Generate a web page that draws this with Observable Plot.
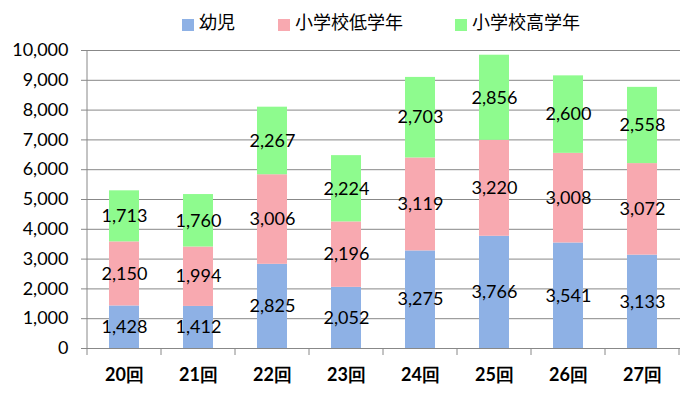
<!DOCTYPE html>
<html><head><meta charset="utf-8">
<script src="https://cdn.jsdelivr.net/npm/d3@7"></script>
<script src="https://cdn.jsdelivr.net/npm/@observablehq/plot@0.6"></script>
<style>
body{margin:0;background:#fff;width:692px;height:398px;overflow:hidden}
#legend{height:30px;position:relative;font-family:"Noto Sans CJK JP";font-size:18px;color:#000}
.item{position:absolute;top:8px;display:flex;align-items:center}
.sw{width:12px;height:12px;margin-right:5px;margin-top:7px}
</style></head><body>
<div id="legend"></div>
<div id="chart"></div>
<script>
const categories = ["20回","21回","22回","23回","24回","25回","26回","27回"];
const seriesNames = ["幼児","小学校低学年","小学校高学年"];
const yoji = [1428,1412,2825,2052,3275,3766,3541,3133];
const tei  = [2150,1994,3006,2196,3119,3220,3008,3072];
const kou  = [1713,1760,2267,2224,2703,2856,2600,2558];
const yTicks = [0,1000,2000,3000,4000,5000,6000,7000,8000,9000,10000];
const colors = ["#8EB1E5","#F8A9B0","#8EFB8E"];

const seriesVals = [yoji, tei, kou];
const table = [];
categories.forEach((c, i) => {
  let base = 0;
  seriesVals.forEach((vals, s) => {
    table.push({cat: c, series: seriesNames[s], value: vals[i], y1: base, y2: base + vals[i], mid: base + vals[i] / 2});
    base += vals[i];
  });
});

const legend = document.getElementById("legend");
const legendX = [182, 278, 455];
seriesNames.forEach((n, i) => {
  const d = document.createElement("div");
  d.className = "item";
  d.style.left = legendX[i] + "px";
  d.innerHTML = `<span class="sw" style="background:${colors[i]}"></span><span>${n}</span>`;
  legend.appendChild(d);
});

const boundaryTicks = (index, scales, values, dims) => {
  const g = d3.create("svg:g");
  const bw = scales.x.bandwidth();
  const step = scales.x.step();
  const y0 = scales.y(0);
  categories.forEach((c, i) => {
    const x = scales.x(c) + bw / 2 + step / 2;
    g.append("line").attr("x1", x).attr("x2", x).attr("y1", y0).attr("y2", y0 + 7)
      .attr("stroke", "#888").attr("stroke-width", 1);
  });
  g.append("line").attr("x1", dims.marginLeft).attr("x2", dims.marginLeft)
    .attr("y1", dims.marginTop).attr("y2", y0 + 7).attr("stroke", "#888");
  return g.node();
};

const chart = Plot.plot({
  width: 692,
  height: 368,
  marginLeft: 87,
  marginRight: 12,
  marginTop: 20,
  marginBottom: 50,
  style: {fontFamily: "Lato", fontSize: "18px", color: "#000", background: "#fff"},
  x: {domain: categories, paddingInner: 0.59, paddingOuter: 0.3, label: null},
  y: {domain: [0, 10000], ticks: yTicks, label: null},
  color: {domain: seriesNames, range: colors},
  marks: [
    Plot.gridY(yTicks, {stroke: "#888", strokeOpacity: 1}),
    Plot.barY(table, {x: "cat", y1: "y1", y2: "y2", fill: "series"}),
    Plot.text(table, {x: "cat", y: "mid", text: d => d3.format(",")(d.value), fill: "#000", fontSize: 18}),
    Plot.axisY(yTicks, {tickFormat: d3.format(","), tickSize: 6, tickPadding: 13, stroke: "#888", fontSize: 18, fill: "#000"}),
    Plot.axisX({tickSize: 0, tickPadding: 20, fontSize: 18, fontWeight: "bold", fill: "#000"}),
    Plot.ruleY([0], {stroke: "#888"}),
    boundaryTicks
  ]
});
document.getElementById("chart").appendChild(chart);
</script>
</body></html>
